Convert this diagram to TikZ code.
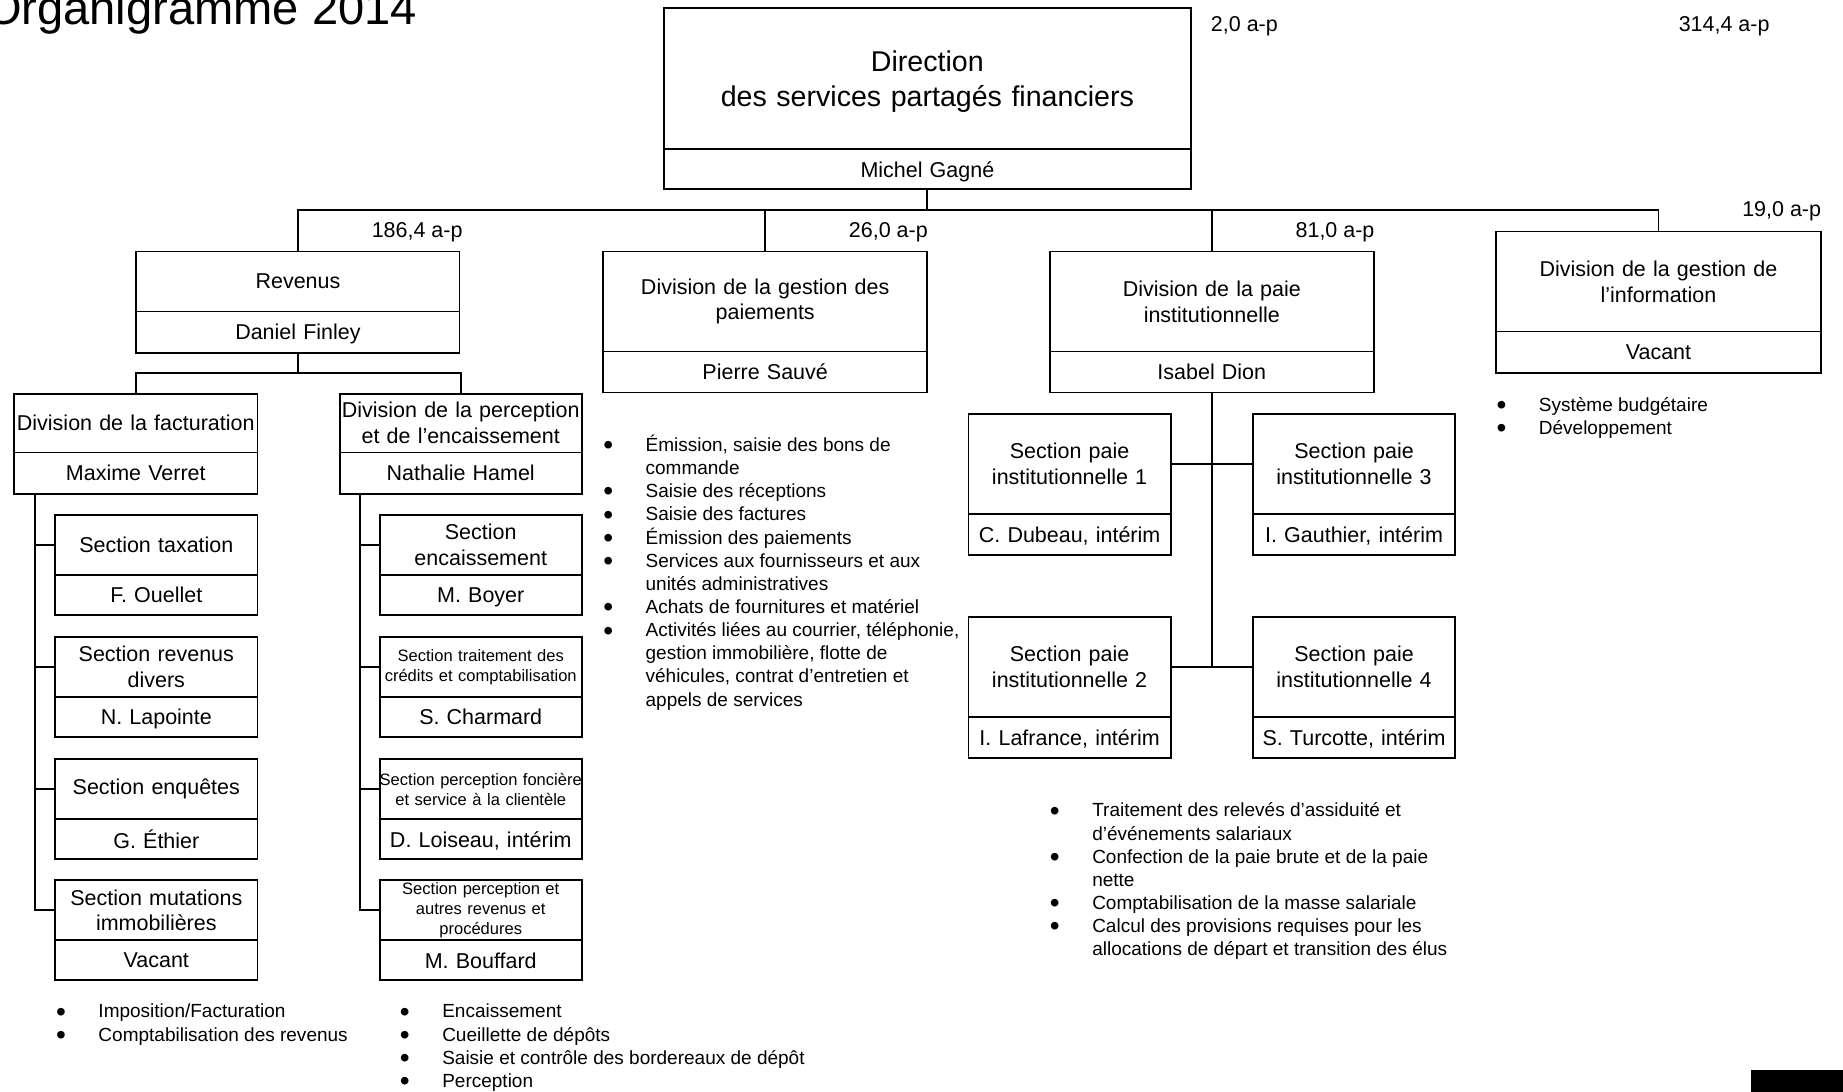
\documentclass[tikz,border=0pt]{standalone}
\usepackage{fontspec}
\setmainfont{Liberation Sans}
\usetikzlibrary{positioning}
\newcommand{\puce}{\smash{\raisebox{-2pt}{\fontsize{17}{14}\selectfont\textbullet}}}

\begin{document}
\begin{tikzpicture}[
    x=0.25mm, y=-0.25mm,
    node distance=0pt,
    unit/.style={draw, line width=1.1pt, outer sep=0pt, inner sep=0pt, align=center, text width=#1, minimum width=#1, font=\fontsize{13}{15.6}\selectfont},
    who/.style={unit=#1, minimum height=8.75mm, text depth=0pt},
    small/.style={font=\fontsize{10}{12}\selectfont},
    fte/.style={anchor=base west, inner sep=0pt, font=\fontsize{13}{15}\selectfont},
    notes/.style={anchor=base west, inner sep=0pt, font=\fontsize{11.5}{14}\selectfont},
    link/.style={line width=1.1pt}
  ]
    \useasboundingbox (0,0) rectangle (1568,929);

    \node[anchor=base west, inner sep=0pt, font=\fontsize{28.5}{34}\selectfont] (title) at (-13,20.5) {Organigramme 2014};

    % direction
    \node[unit=112mm, minimum height=30mm, anchor=north, font=\fontsize{17.3}{21.3}\selectfont] (dir) at (789,7) {\rule{0pt}{16pt}Direction\\des services partagés financiers};
    \node[who=112mm, minimum height=8.5mm, below=of dir] (dirname) {Michel Gagné};
    \node[fte] (fteDir) at (1030,27) {2,0 a-p};
    \node[fte] (fteTotal) at (1428,27) {314,4 a-p};

    % divisions
    \node[unit=68.75mm, minimum height=12.75mm, anchor=north] (rev) at (253.5,214) {Revenus};
    \node[who=68.75mm, below=of rev] (revname) {Daniel Finley};
    \node[unit=69mm, minimum height=21.25mm, anchor=north] (pay) at (651,214) {Division de la gestion des\\paiements};
    \node[who=69mm, below=of pay] (payname) {Pierre Sauvé};
    \node[unit=69mm, minimum height=21.25mm, anchor=north] (paie) at (1031,214) {Division de la paie\\institutionnelle};
    \node[who=69mm, below=of paie] (paiename) {Isabel Dion};
    \node[unit=69mm, minimum height=21.25mm, anchor=north] (info) at (1411,197) {Division de la gestion de\\l’information};
    \node[who=69mm, below=of info] (infoname) {Vacant};

    \node[fte] (fteRev) at (316,202) {186,4 a-p};
    \node[fte] (ftePay) at (722,202) {26,0 a-p};
    \node[fte] (ftePaie) at (1102,202) {81,0 a-p};
    \node[fte] (fteInfo) at (1482,184) {19,0 a-p};

    \coordinate (bus) at (789,179);
    \draw[link] (dirname.south) -- (bus);
    \draw[link] (rev.north) |- (bus) -| (info.north);
    \draw[link] (pay.north) -- (pay.north |- bus);
    \draw[link] (paie.north) -- (paie.north |- bus);

    % revenus
    \node[unit=51.75mm, minimum height=12.5mm, anchor=north] (fact) at (115.5,335) {Division de la facturation};
    \node[who=51.75mm, below=of fact] (factname) {Maxime Verret};
    \node[unit=51.5mm, minimum height=12.5mm, anchor=north] (perc) at (392,335) {Division de la perception\\et de l’encaissement};
    \node[who=51.5mm, below=of perc] (percname) {Nathalie Hamel};

    \coordinate (revbus) at (253.5,317);
    \draw[link] (revname.south) -- (revbus);
    \draw[link] (fact.north) |- (revbus) -| (perc.north);

    \node[unit=43mm, minimum height=12.75mm, anchor=north] (tax) at (133,438) {Section taxation};
    \node[who=43mm, minimum height=8.5mm, below=of tax] (taxname) {F. Ouellet};
    \node[unit=43mm, minimum height=12.75mm, anchor=north] (div) at (133,542) {Section revenus\\divers};
    \node[who=43mm, minimum height=8.5mm, below=of div] (divname) {N. Lapointe};
    \node[unit=43mm, minimum height=12.75mm, anchor=north] (enq) at (133,646) {Section enquêtes};
    \node[who=43mm, minimum height=8.5mm, below=of enq] (enqname) {G. Éthier};
    \node[unit=43mm, minimum height=12.75mm, anchor=north] (mut) at (133,749) {Section mutations\\immobilières};
    \node[who=43mm, minimum height=8.5mm, below=of mut] (mutname) {Vacant};

    \coordinate (fspine) at (30,420);
    \draw[link] (fspine) |- (mut.west);
    \draw[link] (tax.west) -- (tax.west -| fspine);
    \draw[link] (div.west) -- (div.west -| fspine);
    \draw[link] (enq.west) -- (enq.west -| fspine);

    \node[unit=43mm, minimum height=12.75mm, anchor=north] (enc) at (409,438) {Section\\encaissement};
    \node[who=43mm, minimum height=8.5mm, below=of enc] (encname) {M. Boyer};
    \node[unit=43mm, small, minimum height=12.75mm, anchor=north] (cred) at (409,542) {Section traitement des\\crédits et comptabilisation};
    \node[who=43mm, minimum height=8.5mm, below=of cred] (credname) {S. Charmard};
    \node[unit=43mm, small, minimum height=12.75mm, anchor=north] (fonc) at (409,646) {Section perception foncière\\et service à la clientèle};
    \node[who=43mm, minimum height=8.5mm, below=of fonc] (foncname) {D. Loiseau, intérim};
    \node[unit=43mm, small, minimum height=12.75mm, anchor=north] (autres) at (409,749) {Section perception et\\autres revenus et\\procédures};
    \node[who=43mm, minimum height=8.5mm, below=of autres] (autresname) {M. Bouffard};

    \coordinate (pspine) at (306,420);
    \draw[link] (pspine) |- (autres.west);
    \draw[link] (enc.west) -- (enc.west -| pspine);
    \draw[link] (cred.west) -- (cred.west -| pspine);
    \draw[link] (fonc.west) -- (fonc.west -| pspine);

    % paie
    \node[unit=43mm, minimum height=21.25mm, anchor=north] (pp1) at (910,352) {Section paie\\institutionnelle 1};
    \node[who=43mm, below=of pp1] (pp1name) {C. Dubeau, intérim};
    \node[unit=43mm, minimum height=21.25mm, anchor=north] (pp3) at (1152,352) {Section paie\\institutionnelle 3};
    \node[who=43mm, below=of pp3] (pp3name) {I. Gauthier, intérim};
    \node[unit=43mm, minimum height=21.25mm, anchor=north] (pp2) at (910,525) {Section paie\\institutionnelle 2};
    \node[who=43mm, below=of pp2] (pp2name) {I. Lafrance, intérim};
    \node[unit=43mm, minimum height=21.25mm, anchor=north] (pp4) at (1152,525) {Section paie\\institutionnelle 4};
    \node[who=43mm, below=of pp4] (pp4name) {S. Turcotte, intérim};

    \draw[link] (paiename.south) -- (paiename.south |- pp2.east);
    \draw[link] (pp1.east) -- (pp3.west);
    \draw[link] (pp2.east) -- (pp4.west);

    % mandats
    \node[notes] (factList) at (47.5,866) {\begin{tabular}[t]{@{}p{9mm}@{}l@{}}
      \puce & Imposition/Facturation\\
      \puce & Comptabilisation des revenus
    \end{tabular}};
    \node[notes] (percList) at (340,866) {\begin{tabular}[t]{@{}p{9mm}@{}l@{}}
      \puce & Encaissement\\
      \puce & Cueillette de dépôts\\
      \puce & Saisie et contrôle des bordereaux de dépôt\\
      \puce & Perception
    \end{tabular}};
    \node[notes] (payList) at (513,384) {\begin{tabular}[t]{@{}p{9mm}@{}l@{}}
      \puce & Émission, saisie des bons de\\
            & commande\\
      \puce & Saisie des réceptions\\
      \puce & Saisie des factures\\
      \puce & Émission des paiements\\
      \puce & Services aux fournisseurs et aux\\
            & unités administratives\\
      \puce & Achats de fournitures et matériel\\
      \puce & Activités liées au courrier, téléphonie,\\
            & gestion immobilière, flotte de\\
            & véhicules, contrat d’entretien et\\
            & appels de services
    \end{tabular}};
    \node[notes] (paieList) at (893,695) {\begin{tabular}[t]{@{}p{9mm}@{}l@{}}
      \puce & Traitement des relevés d’assiduité et\\
            & d’événements salariaux\\
      \puce & Confection de la paie brute et de la paie\\
            & nette\\
      \puce & Comptabilisation de la masse salariale\\
      \puce & Calcul des provisions requises pour les\\
            & allocations de départ et transition des élus
    \end{tabular}};
    \node[notes] (infoList) at (1273,350) {\begin{tabular}[t]{@{}p{9mm}@{}l@{}}
      \puce & Système budgétaire\\
      \puce & Développement
    \end{tabular}};

    \fill (1490,910) rectangle (1568,929);
  \end{tikzpicture}
\end{document}
